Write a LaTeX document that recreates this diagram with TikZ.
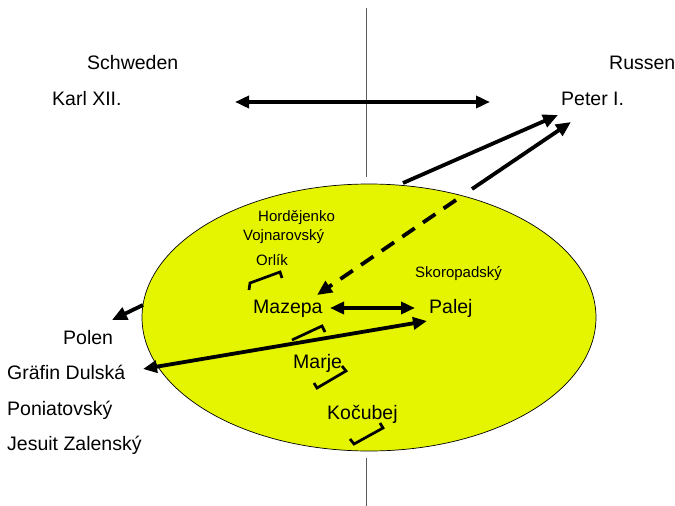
\documentclass[tikz,border=0pt]{standalone}
\usepackage{fontspec}
\setmainfont{Liberation Sans}
\usetikzlibrary{arrows.meta,shapes.geometric}

\definecolor{campfill}{RGB}{229,245,0}
\definecolor{axisgray}{RGB}{90,90,90}

\tikzset{
  big/.style={anchor=base west,inner sep=0pt,font=\fontsize{19.5}{22}\selectfont},
  small/.style={anchor=base west,inner sep=0pt,font=\fontsize{15}{18}\selectfont},
  heavy/.style={line width=3.8pt,-{Triangle[length=15pt,width=13pt]}},
  heavyboth/.style={line width=3.8pt,{Triangle[length=14pt,width=12pt]}-{Triangle[length=14pt,width=12pt]}},
  hook/.style={line width=2.7pt,line join=miter},
}

\begin{document}
\begin{tikzpicture}[x=1pt,y=-1pt]
\useasboundingbox (0,0) rectangle (675,506);

% dividing axis
\draw[axisgray,line width=0.9pt] (366,8) -- (366,177);
\draw[axisgray,line width=0.9pt] (366,458) -- (366,506);

% the camp ellipse
\node[ellipse,draw=black,line width=0.7pt,fill=campfill,minimum width=454pt,
      minimum height=267pt,inner sep=0pt,outer sep=0pt] (camp) at (369,317.5) {};

% labels
\node[big] (schweden) at (87,69) {Schweden};
\node[big] (karl) at (52,105) {Karl XII.};
\node[big] (russen) at (609,69) {Russen};
\node[big] (peter) at (561,105) {Peter I.};
\node[big] (polen) at (63,344) {Polen};
\node[big] (dulska) at (7,379) {Gräfin Dulská};
\node[big] (poniat) at (7,415) {Poniatovský};
\node[big] (jesuit) at (7,450) {Jesuit Zalenský};
\node[small] (hord) at (258,221) {Hordějenko};
\node[small] (vojn) at (243,240) {Vojnarovský};
\node[small] (orlik) at (256,265) {Orlík};
\node[small] (skoro) at (415,277) {Skoropadský};
\node[big] (mazepa) at (253,313) {Mazepa};
\node[big] (palej) at (429,313) {Palej};
\node[big] (marje) at (293,368) {Marje};
\node[big] (kocubej) at (327,419) {Kočubej};

% arrow end points
\coordinate (kA) at (235,102);
\coordinate (pA) at (490,102);
\coordinate (t1) at (403,183);
\coordinate (p1) at (558,115);
\coordinate (t2) at (472,189);
\coordinate (p2) at (571,122);
\coordinate (d0) at (456,200);
\coordinate (m0) at (317,295);
\coordinate (mR) at (330,308);
\coordinate (pL) at (415,308);
\coordinate (gR) at (143,369);
\coordinate (pB) at (427,321);
\coordinate (c0) at (143,305);
\coordinate (pl) at (112,320);

% connectors
\draw[heavyboth] (kA) -- (pA);
\draw[heavy] (t1) -- (p1);
\draw[heavy] (t2) -- (p2);
\draw[heavy,dash pattern=on 15pt off 10pt] (d0) -- (m0);
\draw[heavyboth] (mR) -- (pL);
\draw[heavyboth] (gR) -- (pB);
\draw[heavy] (c0) -- (pl);

% small brackets
\draw[hook] (249,290) -- (250,283) -- (280,272) -- (282,278);
\draw[hook] (292,340) -- (322,326) -- (325,332);
\draw[hook] (314,383) -- (317,388) -- (346,371) -- (342,366);
\draw[hook] (350,439) -- (354,444) -- (383,428) -- (380,423);
\end{tikzpicture}
\end{document}
